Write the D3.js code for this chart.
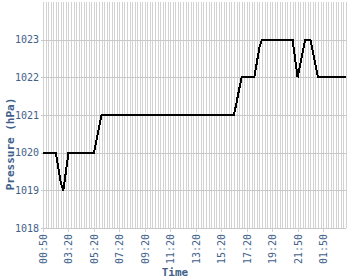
<!DOCTYPE html>
<html>
<head>
<meta charset="utf-8">
<script src="https://cdn.jsdelivr.net/npm/d3@7"></script>
<style>
  body { margin: 0; background: #fff; }
  svg { display: block; }
</style>
</head>
<body>
<svg class="line-chart"></svg>
<script>
// pressure readings, one per category (hPa)
const pressure = [
  1020, 1020, 1020, 1020, 1020, 1020, 1019.6, 1019.2, 1019, 1019.5,
  1020, 1020, 1020, 1020, 1020, 1020, 1020, 1020, 1020, 1020,
  1020, 1020.33, 1020.67, 1021, 1021, 1021, 1021, 1021, 1021, 1021,
  1021, 1021, 1021, 1021, 1021, 1021, 1021, 1021, 1021, 1021,
  1021, 1021, 1021, 1021, 1021, 1021, 1021, 1021, 1021, 1021,
  1021, 1021, 1021, 1021, 1021, 1021, 1021, 1021, 1021, 1021,
  1021, 1021, 1021, 1021, 1021, 1021, 1021, 1021, 1021, 1021,
  1021, 1021, 1021, 1021, 1021, 1021, 1021.33, 1021.67, 1022, 1022,
  1022, 1022, 1022, 1022, 1022.4, 1022.8, 1023, 1023, 1023, 1023,
  1023, 1023, 1023, 1023, 1023, 1023, 1023, 1023, 1023, 1022.5,
  1022, 1022.33, 1022.67, 1023, 1023, 1023, 1022.67, 1022.33, 1022, 1022,
  1022, 1022, 1022, 1022, 1022, 1022, 1022, 1022, 1022, 1022
];
// labelled ticks: every 10th category
const tickIndex = [0, 10, 20, 30, 40, 50, 60, 70, 80, 90, 100, 110];
const tickLabels = ['00:50', '03:20', '05:20', '07:20', '09:20', '11:20',
  '13:20', '15:20', '17:20', '19:20', '21:50', '01:50'];
const yTicks = [1018, 1019, 1020, 1021, 1022, 1023];

const width = 350, height = 280;
const margin = { top: 2, right: 4, bottom: 52, left: 43 };
const textColor = '#41618a';
const gridColor = '#d2d2d2';

const svg = d3.select('.line-chart')
  .attr('width', width)
  .attr('height', height);

const x = d3.scalePoint()
  .domain(d3.range(pressure.length))
  .range([margin.left, width - margin.right]);

const y = d3.scaleLinear()
  .domain([1018, 1024])
  .range([height - margin.bottom, margin.top]);

// vertical grid, one line per category
svg.append('g')
  .attr('shape-rendering', 'crispEdges')
  .attr('transform', `translate(0,${height - margin.bottom})`)
  .call(d3.axisBottom(x).tickSize(-(height - margin.bottom - margin.top)).tickFormat(''))
  .call((g) => g.select('.domain').remove())
  .call((g) => g.selectAll('.tick line').attr('stroke', gridColor));

// horizontal grid + y labels
svg.append('g')
  .attr('shape-rendering', 'crispEdges')
  .attr('transform', `translate(${margin.left},0)`)
  .call(d3.axisLeft(y).tickValues(yTicks).tickFormat(d3.format('d'))
    .tickSize(-(width - margin.left - margin.right)).tickPadding(4))
  .call((g) => g.select('.domain').remove())
  .call((g) => g.selectAll('.tick line').attr('stroke', '#c8c8c8').attr('x1', -2))
  .call((g) => g.selectAll('text')
    .attr('fill', textColor)
    .style('font-family', 'DejaVu Sans Mono')
    .style('font-size', '10px'));

// labelled x ticks
svg.append('g')
  .attr('shape-rendering', 'crispEdges')
  .attr('transform', `translate(0,${height - margin.bottom})`)
  .call(d3.axisBottom(x).tickValues(tickIndex)
    .tickFormat((d, i) => tickLabels[i]).tickSize(4))
  .call((g) => g.select('.domain').remove())
  .call((g) => g.selectAll('.tick line').attr('stroke', gridColor))
  .call((g) => g.selectAll('text')
    .attr('fill', textColor)
    .style('font-family', 'DejaVu Sans Mono')
    .style('font-size', '10px')
    .attr('text-anchor', 'end')
    .attr('transform', 'rotate(-90)')
    .attr('x', -6)
    .attr('y', 0)
    .attr('dy', '0.35em'));

const line = d3.line()
  .x((d, i) => x(i))
  .y((d) => y(d));

svg.append('path')
  .datum(pressure)
  .attr('fill', 'none')
  .attr('stroke', '#000')
  .attr('stroke-width', 2)
  .attr('shape-rendering', 'crispEdges')
  .attr('d', line);

// axis titles
svg.append('text')
  .attr('x', 175)
  .attr('y', 276)
  .attr('text-anchor', 'middle')
  .attr('fill', textColor)
  .style('font-family', 'DejaVu Sans Mono')
  .style('font-weight', 'bold')
  .style('font-size', '11px')
  .text('Time');

svg.append('text')
  .attr('transform', 'translate(14,144) rotate(-90)')
  .attr('text-anchor', 'middle')
  .attr('fill', textColor)
  .style('font-family', 'DejaVu Sans Mono')
  .style('font-weight', 'bold')
  .style('font-size', '11px')
  .text('Pressure (hPa)');
</script>
</body>
</html>
